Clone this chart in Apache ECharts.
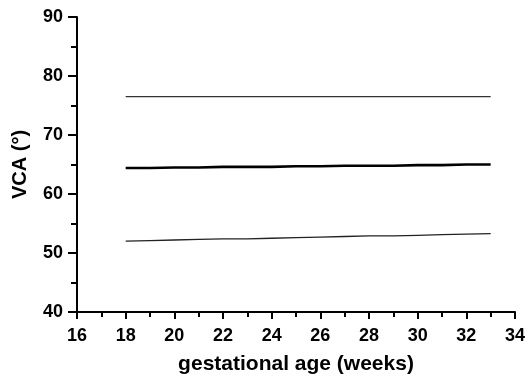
<!DOCTYPE html>
<html>
<head>
<meta charset="utf-8">
<script src="https://cdn.jsdelivr.net/npm/echarts@6/dist/echarts.min.js"></script>
<style>html,body{margin:0;padding:0;background:#fff;}#c{width:528px;height:380px;}</style>
</head>
<body>
<div id="c"></div>
<script>
var weeks = [18,19,20,21,22,23,24,25,26,27,28,29,30,31,32,33];
var upper = [76.5,76.5,76.5,76.5,76.5,76.5,76.5,76.5,76.5,76.5,76.5,76.5,76.5,76.5,76.5,76.5];
var middle = [64.4,64.4,64.5,64.5,64.6,64.6,64.6,64.7,64.7,64.8,64.8,64.8,64.9,64.9,65.0,65.0];
var lower = [52.0,52.1,52.2,52.3,52.4,52.4,52.5,52.6,52.7,52.8,52.9,52.9,53.0,53.1,53.2,53.3];
var xTitle = 'gestational age (weeks)';
var yTitle = 'VCA (°)';

function pairs(v){ return weeks.map(function(w,i){ return [w, v[i]]; }); }
var font = 'Liberation Sans, Arial, sans-serif';
var chart = echarts.init(document.getElementById('c'));
chart.setOption({
  animation: false,
  grid: {left: 77, right: 12, top: 17, bottom: 68, containLabel: false},
  xAxis: {
    type: 'value', min: 16, max: 34, interval: 2,
    name: xTitle, nameLocation: 'middle', nameGap: 42,
    nameTextStyle: {fontFamily: font, fontWeight: 'bold', fontSize: 21, color: '#000'},
    axisLine: {show: true, lineStyle: {color: '#000', width: 2}},
    axisTick: {show: true, length: 7, lineStyle: {color: '#000', width: 2}},
    minorTick: {show: true, splitNumber: 2, length: 5, lineStyle: {color: '#000', width: 2}},
    axisLabel: {fontFamily: font, fontWeight: 'bold', fontSize: 18, color: '#000', margin: 15},
    splitLine: {show: false}
  },
  yAxis: {
    type: 'value', min: 40, max: 90, interval: 10,
    name: yTitle, nameLocation: 'middle', nameGap: 47, nameRotate: 90,
    nameTextStyle: {fontFamily: font, fontWeight: 'bold', fontSize: 20, color: '#000'},
    axisLine: {show: true, lineStyle: {color: '#000', width: 2}},
    axisTick: {show: true, length: 9, lineStyle: {color: '#000', width: 2}},
    minorTick: {show: true, splitNumber: 2, length: 6, lineStyle: {color: '#000', width: 2}},
    axisLabel: {fontFamily: font, fontWeight: 'bold', fontSize: 18, color: '#000', margin: 14},
    splitLine: {show: false}
  },
  series: [
    {type: 'line', data: pairs(upper), showSymbol: false, symbol: 'none', lineStyle: {color: '#333', width: 1.3}},
    {type: 'line', data: pairs(middle), showSymbol: false, symbol: 'none', lineStyle: {color: '#000', width: 2.6}},
    {type: 'line', data: pairs(lower), showSymbol: false, symbol: 'none', lineStyle: {color: '#222', width: 1.3}}
  ]
});
</script>
</body>
</html>
